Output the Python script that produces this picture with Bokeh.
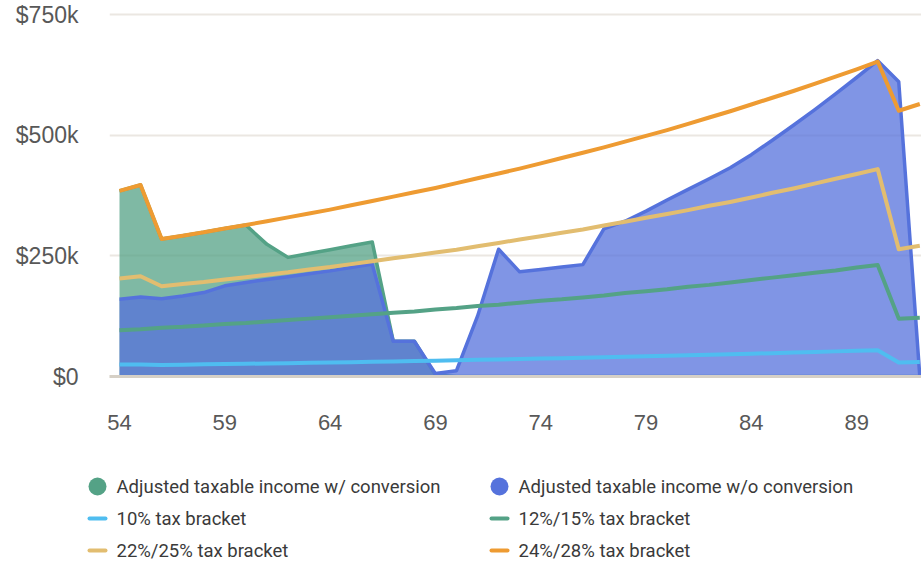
from bokeh.plotting import figure
from bokeh.models import ColumnDataSource, Range1d, FixedTicker
from bokeh.embed import file_html
from bokeh.resources import INLINE

# Ages on the horizontal axis
ages = [54, 55, 56, 57, 58, 59, 60, 61, 62, 63, 64, 65, 66, 67, 68, 69, 70, 71, 72,
        73, 74, 75, 76, 77, 78, 79, 80, 81, 82, 83, 84, 85, 86, 87, 88, 89, 90, 91, 92]

# Adjusted taxable income, $k
income_with_conversion = [385, 397, 285, 292, 299, 307, 314, 274, 247, 255, 263, 271, 279, 73, 73, 3,
                          0, 0, 0, 0, 0, 0, 0, 0, 0, 0, 0, 0, 0, 0, 0, 0, 0, 0, 0, 0, 0, 0, 0]
income_without_conversion = [160, 165, 161, 167, 174, 188, 195, 201, 207, 213, 219, 226, 233, 73, 73, 6,
                             12, 125, 264, 217, 222, 227, 232, 306, 322, 343, 366, 388, 410, 433,
                             460, 490, 521, 553, 586, 620, 655, 611, 0]

# Top of each tax bracket, $k
bracket_10 = [25, 25, 24, 24.6, 25.2, 25.8, 26.4, 27.1, 27.7, 28.4, 29.1, 29.8, 30.6, 31.3, 32.1,
              32.9, 33.7, 34.5, 35.3, 36.2, 37.1, 38.0, 38.9, 39.9, 40.9, 41.9, 42.9, 44.0, 45.0,
              46.1, 47.3, 48.4, 49.6, 50.8, 52.1, 53.3, 54.6, 29, 30]
bracket_12_15 = [96, 98, 101, 103, 106, 109, 111, 114, 117, 120, 123, 126, 129, 132, 135, 139, 142,
                 146, 149, 153, 157, 160, 164, 168, 173, 177, 181, 186, 190, 195, 200, 205, 210,
                 215, 220, 226, 231, 120, 122]
bracket_22_25 = [203, 208, 187, 192, 196, 201, 206, 211, 216, 222, 227, 233, 239, 245, 251, 257,
                 263, 270, 277, 284, 291, 298, 305, 313, 321, 329, 337, 345, 354, 362, 371, 381,
                 390, 400, 410, 420, 430, 264, 271]
bracket_24_28 = [385, 397, 285, 292, 299, 307, 314, 322, 330, 338, 346, 355, 364, 373, 382, 391,
                 401, 411, 421, 431, 442, 453, 464, 475, 487, 499, 511, 524, 537, 550, 564, 578,
                 592, 607, 622, 637, 653, 551, 565]

x_ticks = [54, 59, 64, 69, 74, 79, 84, 89]
y_ticks = [0, 250, 500, 750]
y_tick_labels = ["$0", "$250k", "$500k", "$750k"]

GREEN = "#54a286"
BLUE = "#5572dc"
SKY = "#4fbdf0"
TAN = "#e2bd70"
ORANGE = "#ee9b32"

series_labels = ["Adjusted taxable income w/ conversion", "Adjusted taxable income w/o conversion",
                 "10% tax bracket", "12%/15% tax bracket",
                 "22%/25% tax bracket", "24%/28% tax bracket"]

src = ColumnDataSource(dict(age=ages, conv=income_with_conversion, noconv=income_without_conversion,
                            b10=bracket_10, b12=bracket_12_15, b22=bracket_22_25, b24=bracket_24_28,
                            zero=[0] * len(ages)))

p = figure(width=921, height=440, output_backend="svg", toolbar_location=None,
           x_range=Range1d(53.525, 92.08), y_range=Range1d(0, 761),
           min_border_left=109, min_border_right=0, min_border_top=9, min_border_bottom=64)
p.outline_line_color = None
p.background_fill_color = "white"
p.border_fill_color = "white"

# Income areas
p.varea(x="age", y1="zero", y2="conv", source=src, fill_color=GREEN, fill_alpha=0.75)
p.line(x="age", y="conv", source=src, line_color=GREEN, line_width=3.5, line_join="round")
p.varea(x="age", y1="zero", y2="noconv", source=src, fill_color=BLUE, fill_alpha=0.75)
p.line(x="age", y="noconv", source=src, line_color=BLUE, line_width=3.5, line_join="round")

# Bracket lines
for col, color in [("b10", SKY), ("b12", GREEN), ("b22", TAN), ("b24", ORANGE)]:
    p.line(x="age", y=col, source=src, line_color=color, line_width=4, line_join="round")

p.xgrid.grid_line_color = None
p.ygrid.grid_line_color = "#ebe7e2"
p.ygrid.grid_line_width = 2
p.ygrid.ticker = FixedTicker(ticks=y_ticks)

p.xaxis.ticker = FixedTicker(ticks=x_ticks)
p.xaxis.axis_line_color = "#d6d0c6"
p.xaxis.axis_line_width = 3
p.xaxis.major_tick_line_color = None
p.xaxis.minor_tick_line_color = None
p.xaxis.major_tick_out = 0
p.xaxis.minor_tick_out = 0
p.xaxis.major_label_standoff = 38
p.xaxis.major_label_text_font = "Liberation Sans"
p.xaxis.major_label_text_font_size = "22px"
p.xaxis.major_label_text_color = "#585858"

p.yaxis.ticker = FixedTicker(ticks=y_ticks)
p.yaxis.major_label_overrides = {t: lab for t, lab in zip(y_ticks, y_tick_labels)}
p.yaxis.axis_line_color = None
p.yaxis.major_tick_line_color = None
p.yaxis.minor_tick_line_color = None
p.yaxis.major_tick_out = 0
p.yaxis.minor_tick_out = 0
p.yaxis.major_label_standoff = 31
p.yaxis.major_label_text_font = "Liberation Sans"
p.yaxis.major_label_text_font_size = "23px"
p.yaxis.major_label_text_color = "#585858"

# Legend panel, laid out in pixel units
leg = figure(width=921, height=121, output_backend="svg", toolbar_location=None,
             x_range=Range1d(0, 921), y_range=Range1d(121, 0),
             min_border=0, outline_line_color=None)
leg.axis.visible = False
leg.grid.visible = False

col_x = [97, 499]
row_y = [46, 78, 110]
kinds = ["dot", "dot", "line", "line", "line", "line"]
colors = [GREEN, BLUE, SKY, GREEN, TAN, ORANGE]
for i, (lab, kind, color) in enumerate(zip(series_labels, kinds, colors)):
    cx = col_x[i % 2]
    cy = row_y[i // 2]
    if kind == "dot":
        leg.scatter([cx], [cy], size=18, fill_color=color, line_color=None)
    else:
        leg.segment([cx - 8], [cy], [cx + 8], [cy], line_color=color, line_width=4, line_cap="round")
    leg.text([cx + 19], [cy], text=[lab], text_font_size="18.5px", text_font={"value": "Roboto"},
             text_color="#3a3a3a", text_baseline="middle", text_align="left")

open("out.html", "w").write(file_html([p, leg], INLINE))
